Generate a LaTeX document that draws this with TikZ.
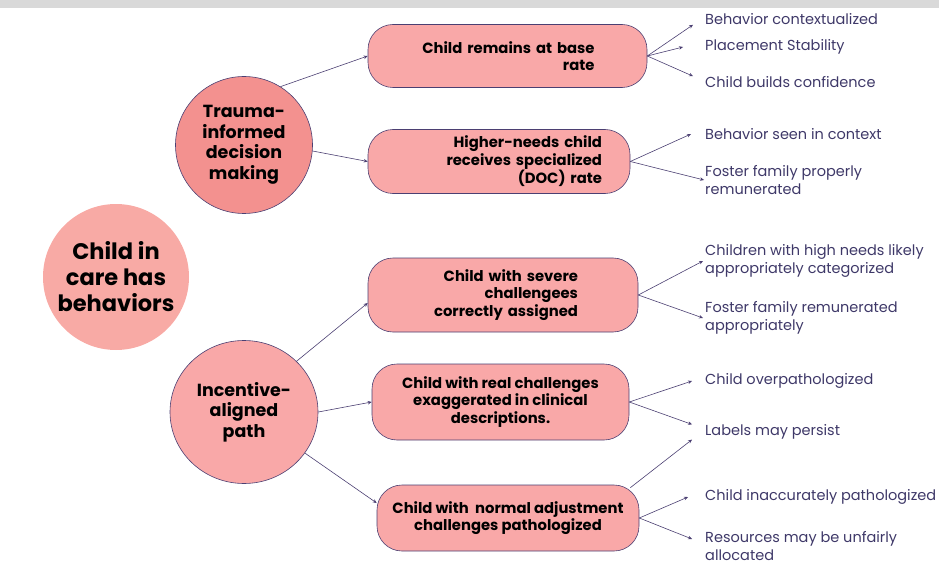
\documentclass[tikz,border=0pt]{standalone}
\usepackage{fontspec}
\setmainfont{Poppins}
\usetikzlibrary{arrows.meta,positioning,shapes.geometric}

\definecolor{edgeviolet}{HTML}{4B3F72}
\definecolor{labelviolet}{HTML}{3E3868}
\definecolor{boxpink}{HTML}{F9A8A8}
\definecolor{traumapink}{HTML}{F3918F}
\definecolor{carepink}{HTML}{F8AAA5}
\definecolor{bandgrey}{HTML}{D9D9D9}

\begin{document}
\begin{tikzpicture}[
    x=1pt, y=-1pt,
    hub/.style={circle, draw=edgeviolet, line width=0.6pt, fill=boxpink, align=center, inner sep=0pt, font=\bfseries\fontsize{17.5}{20.5}\selectfont},
    box/.style={draw=edgeviolet, line width=0.6pt, fill=boxpink, rounded corners=25pt, inner sep=0pt, font=\bfseries\fontsize{14.8}{17.4}\selectfont},
    outcome/.style={anchor=west, align=left, inner sep=0pt, text=labelviolet, font=\fontsize{14.5}{17.5}\selectfont},
    arr/.style={-{Stealth[length=4pt, width=3.5pt]}, edgeviolet, line width=0.6pt}
]
\useasboundingbox (0,0) rectangle (939,588);
\fill[bandgrey] (0,0) rectangle (939,8);

% roots
\node[circle, fill=carepink, minimum size=146pt, align=center, inner sep=0pt,
      font=\bfseries\fontsize{22.5}{26}\selectfont] (care) at (116,277) {Child in\\care has\\behaviors};
\node[hub, fill=traumapink, minimum size=137pt] (trauma) at (244,145) {Trauma-\\informed\\decision\\making};
\node[hub, ellipse, minimum width=148pt, minimum height=143pt] (incentive) at (244,412) {Incentive-\\aligned\\path};

% decisions
\node[box, minimum width=279pt, minimum height=63pt, text width=174pt, align=right] (base) at (507.5,56) {Child remains at base\\rate};
\node[box, minimum width=262pt, minimum height=64pt, text width=206pt, align=right] (doc) at (499,161.5) {Higher-needs child\\receives specialized\\(DOC) rate};
\node[box, minimum width=270pt, minimum height=74pt, text width=150pt, align=right] (severe) at (503,295) {Child with severe\\challengees\\correctly assigned};
\node[box, minimum width=257pt, minimum height=76pt, align=center] (real) at (500.5,402) {Child with real challenges\\exaggerated in clinical\\descriptions.};
\node[box, minimum width=262pt, minimum height=66pt, align=center] (normal) at (508,518) {Child with\ \ normal adjustment\\challenges pathologized};

% outcomes
\node[outcome] (ctx) at (705,19) {Behavior contextualized};
\node[outcome] (stab) at (705,47) {Placement Stability};
\node[outcome] (conf) at (705,82) {Child builds confidence};
\node[outcome] (seen) at (705,134) {Behavior seen in context};
\node[outcome] (paid) at (705,180) {Foster family properly\\remunerated};
\node[outcome] (cat) at (705,261) {Children with high needs likely\\appropriately categorized};
\node[outcome] (paid2) at (705,318) {Foster family remunerated\\appropriately};
\node[outcome] (over) at (705,381) {Child overpathologized};
\node[outcome] (persist) at (705,432) {Labels may persist};
\node[outcome] (inacc) at (705,497) {Child inaccurately pathologized};
\node[outcome] (res) at (705,546) {Resources may be unfairly\\allocated};

\draw[arr] (trauma.58) -- (base.west);
\draw[arr] (trauma.-5) -- (doc.west);
\draw[arr] (incentive.44) -- ([yshift=-8pt]severe.west);
\draw[arr] (incentive.east) -- (real.west);
\draw[arr] (incentive.-34) -- ([yshift=15pt]normal.west);

\draw[arr] (base.east) -- ([xshift=-12pt]ctx.south west);
\draw[arr] (base.east) -- ([xshift=-22pt]stab.west);
\draw[arr] (base.east) -- ([xshift=-12pt]conf.north west);
\draw[arr] (doc.east) -- ([xshift=-14pt]seen.west);
\draw[arr] (doc.east) -- ([xshift=-1pt]paid.west);
\draw[arr] (severe.east) -- ([xshift=-2pt]cat.west);
\draw[arr] (severe.east) -- ([xshift=-2pt]paid2.west);
\draw[arr] (real.east) -- ([xshift=-13pt]over.west);
\draw[arr] (real.east) -- ([xshift=-13pt]persist.north west);
\draw[arr] ([shift={(-9,3)}]normal.north east) -- ([xshift=-13pt]persist.south west);
\draw[arr] (normal.east) -- ([xshift=-17pt]inacc.west);
\draw[arr] (normal.east) -- ([xshift=-13pt,yshift=7pt]res.west);
\end{tikzpicture}
\end{document}
